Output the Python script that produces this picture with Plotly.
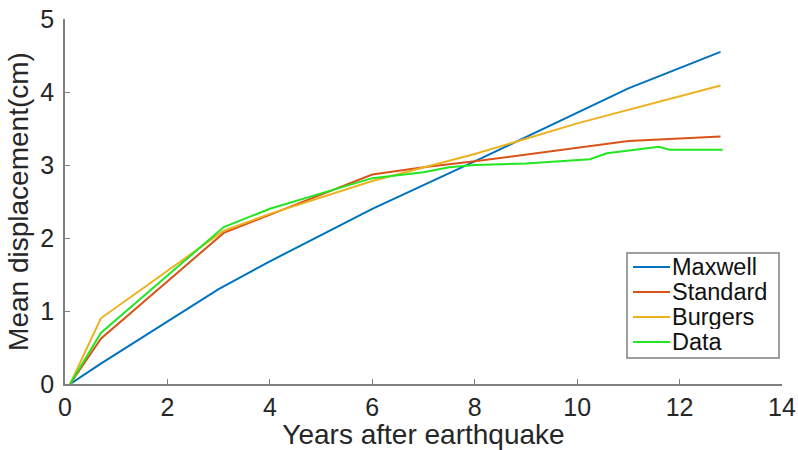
import plotly.graph_objects as go

maxwell_x = [0.1, 0.7, 3.0, 4.0, 6.0, 8.0, 11.0, 12.8]
maxwell_y = [0.0, 0.28, 1.3, 1.68, 2.4, 3.05, 4.05, 4.55]

standard_x = [0.1, 0.7, 3.1, 6.0, 7.0, 8.0, 11.0, 12.8]
standard_y = [0.0, 0.62, 2.07, 2.87, 2.97, 3.05, 3.33, 3.39]

burgers_x = [0.1, 0.7, 3.1, 4.0, 6.0, 8.0, 10.0, 12.8]
burgers_y = [0.0, 0.9, 2.1, 2.33, 2.78, 3.15, 3.57, 4.09]

data_x = [0.1, 0.7, 3.1, 4.0, 6.0, 7.0, 7.5, 8.0, 9.0, 10.25, 10.58, 11.0, 11.5, 11.6, 11.8, 12.84]
data_y = [0.0, 0.7, 2.15, 2.4, 2.82, 2.9, 2.97, 3.0, 3.02, 3.08, 3.16, 3.2, 3.25, 3.25, 3.21, 3.21]

x_ticks = [0, 2, 4, 6, 8, 10, 12, 14]
y_ticks = [0, 1, 2, 3, 4, 5]

names = ["Maxwell", "Standard", "Burgers", "Data"]
colors = ["#0072BD", "#D95319", "#EDB120", "#22E622"]

fig = go.Figure()
series = [(maxwell_x, maxwell_y), (standard_x, standard_y),
          (burgers_x, burgers_y), (data_x, data_y)]
for name, (xs, ys), c in zip(names, series, colors):
    fig.add_trace(go.Scatter(x=xs, y=ys, mode="lines", name=name,
                             line=dict(color=c, width=2), showlegend=False))

FONT = "Liberation Sans, Arial, sans-serif"
axis_common = dict(showgrid=False, zeroline=False, showline=True,
                   linecolor="#808080", linewidth=1.5, ticks="inside",
                   ticklen=5, tickcolor="#808080", mirror=False,
                   automargin=False,
                   tickfont=dict(size=25, color="#262626", family=FONT))

# Custom legend (paper coordinates of the plot area)
L, T, R, B = 65, 19, 782, 384
W, H = R - L, B - T
def px(x):
    return (x - L) / W
def py(y):
    return (B - y) / H

shapes = [dict(type="rect", xref="paper", yref="paper",
               x0=px(627), x1=px(779), y0=py(358), y1=py(253),
               line=dict(color="#808080", width=1.5), fillcolor="white", layer="above")]
annotations = []
row_y = [267, 292, 317, 342]
for name, c, yy in zip(names, colors, row_y):
    shapes.append(dict(type="line", xref="paper", yref="paper",
                       x0=px(633), x1=px(670), y0=py(yy), y1=py(yy),
                       line=dict(color=c, width=2), layer="above"))
    annotations.append(dict(xref="paper", yref="paper", x=px(671), y=py(yy),
                            text=name, showarrow=False, xanchor="left",
                            yanchor="middle", height=24, borderpad=0,
                            font=dict(size=23.5, color="#111111", family=FONT)))

fig.update_layout(
    width=798, height=450,
    margin=dict(l=L, r=798 - R, t=T, b=450 - B),
    plot_bgcolor="white", paper_bgcolor="white",
    font=dict(family=FONT, color="#262626"),
    xaxis=dict(range=[0, 14], tickvals=x_ticks, **axis_common,
               ticklabelstandoff=0,
               title=dict(text="Years after earthquake",
                          font=dict(size=28, family=FONT), standoff=0)),
    yaxis=dict(range=[0, 5], tickvals=y_ticks, **axis_common,
               ticklabelstandoff=4,
               title=dict(text="Mean displacement(cm)",
                          font=dict(size=28, family=FONT), standoff=4)),
    shapes=shapes,
    annotations=annotations,
    showlegend=False,
)
fig.write_html("out.html")
